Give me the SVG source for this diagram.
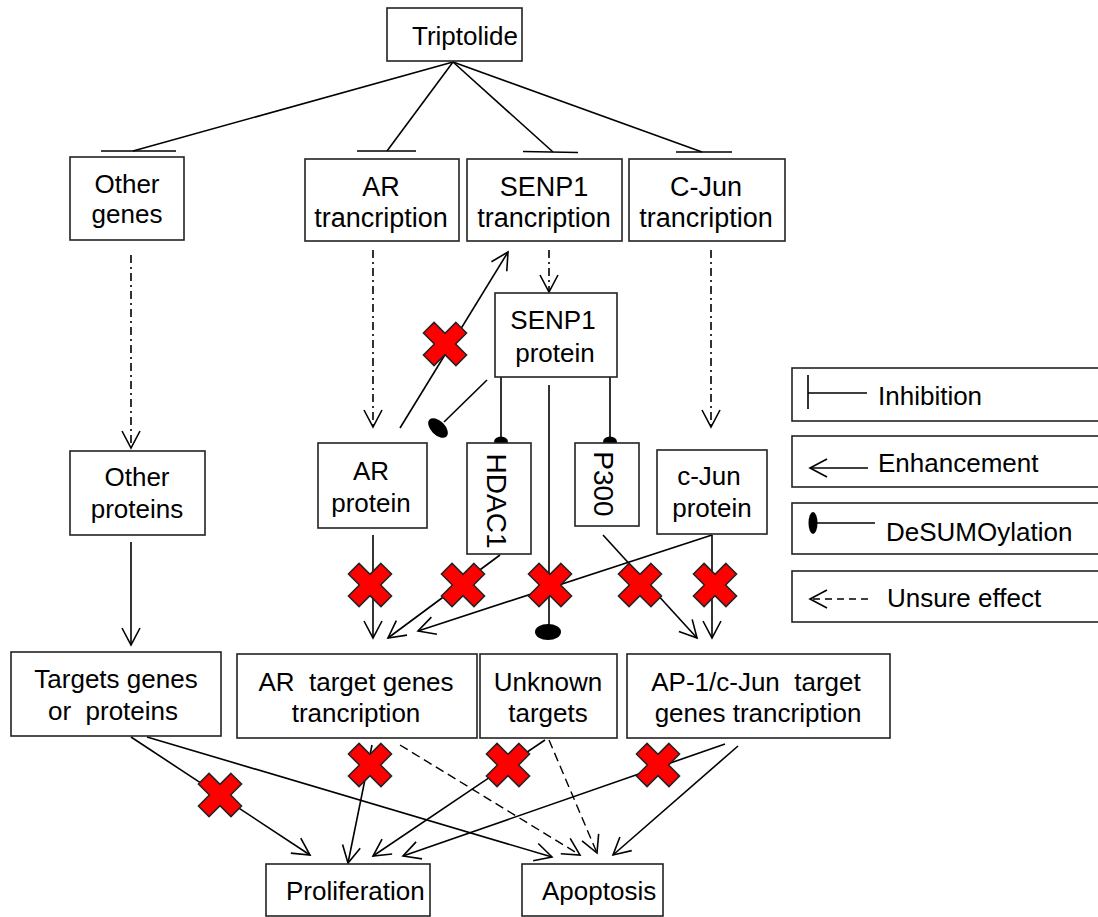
<svg xmlns="http://www.w3.org/2000/svg" xmlns:xlink="http://www.w3.org/1999/xlink" width="1098" height="917" viewBox="0 0 1098 917">
<style>
.bx{fill:#fff;stroke:#222;stroke-width:1.6}
.t{font-family:"Liberation Sans",Arial,Helvetica,sans-serif;font-size:26px;fill:#000}
.t27{font-size:27px}
.ln{stroke:#000;stroke-width:1.6;fill:none}
.dd{stroke:#000;stroke-width:1.6;fill:none;stroke-dasharray:8 4 2 4}
.ds{stroke:#000;stroke-width:1.4;fill:none;stroke-dasharray:9 5}
.ar{marker-end:url(#arr)}
.dot{fill:#000}
.rx{fill:#f00;stroke:#222;stroke-width:1.5}
</style>
<defs>
<marker id="arr" markerUnits="userSpaceOnUse" markerWidth="24" markerHeight="24" viewBox="-20 -12 24 24" refX="0" refY="0" orient="auto" overflow="visible">
<path d="M-17,-9 L0,0 L-17,9" fill="none" stroke="#000" stroke-width="1.6"/>
</marker>
<polygon id="redx" points="10.96,-21.57 21.57,-10.96 10.61,0 21.57,10.96 10.96,21.57 0,10.61 -10.96,21.57 -21.57,10.96 -10.61,0 -21.57,-10.96 -10.96,-21.57 0,-10.61"/>
</defs>
<rect width="1098" height="917" fill="#fff"/>

<g id="connectors">
<line class="ln" x1="453" y1="62" x2="133" y2="151"/>
<line class="ln" x1="101" y1="151" x2="176" y2="151"/>
<line class="ln" x1="453" y1="62" x2="387" y2="151"/>
<line class="ln" x1="357" y1="151" x2="416" y2="151"/>
<line class="ln" x1="453" y1="62" x2="553" y2="152"/>
<line class="ln" x1="523" y1="151.5" x2="578" y2="152.5"/>
<line class="ln" x1="453" y1="62" x2="702" y2="152"/>
<line class="ln" x1="676" y1="152" x2="732" y2="152"/>
<line class="dd ar" x1="131" y1="255" x2="131" y2="448"/>
<line class="dd ar" x1="373" y1="250" x2="373" y2="427"/>
<line class="dd ar" x1="549" y1="250" x2="549" y2="292"/>
<line class="dd ar" x1="711" y1="250" x2="711" y2="427"/>
<line class="ln ar" x1="400" y1="428" x2="508" y2="252"/>
<line class="ln" x1="487" y1="380" x2="444" y2="422"/>
<ellipse class="dot" cx="0" cy="0" rx="12" ry="7" transform="translate(438,428) rotate(45)"/>
<line class="ln" x1="501" y1="377" x2="501" y2="438"/>
<ellipse class="dot" cx="501" cy="442" rx="7" ry="5.5"/>
<line class="ln" x1="610" y1="377" x2="610" y2="438"/>
<ellipse class="dot" cx="610" cy="442" rx="7" ry="5.5"/>
<line class="ln" x1="549" y1="385" x2="549" y2="626"/>
<ellipse class="dot" cx="548" cy="632" rx="13" ry="8"/>
<line class="ln ar" x1="131" y1="542" x2="131" y2="645"/>
<line class="ln ar" x1="373" y1="535" x2="373" y2="638"/>
<line class="ln ar" x1="500" y1="555" x2="388" y2="638"/>
<line class="ln ar" x1="712" y1="535" x2="418" y2="631"/>
<line class="ln ar" x1="603" y1="535" x2="697" y2="638"/>
<line class="ln ar" x1="712" y1="535" x2="712" y2="638"/>
<line class="ln ar" x1="131" y1="737" x2="310" y2="855"/>
<line class="ln ar" x1="147" y1="737" x2="552" y2="857"/>
<line class="ln ar" x1="372" y1="745" x2="348" y2="863"/>
<line class="ds ar" x1="400" y1="745" x2="580" y2="855"/>
<line class="ln ar" x1="545" y1="740" x2="373" y2="856"/>
<line class="ds ar" x1="549" y1="740" x2="597" y2="853"/>
<line class="ln ar" x1="725" y1="744" x2="403" y2="856"/>
<line class="ln ar" x1="738" y1="746" x2="613" y2="855"/>
</g>

<g id="blocks">
<use xlink:href="#redx" href="#redx" class="rx" x="445" y="344"/>
<use xlink:href="#redx" href="#redx" class="rx" x="370" y="585"/>
<use xlink:href="#redx" href="#redx" class="rx" x="463" y="585"/>
<use xlink:href="#redx" href="#redx" class="rx" x="550" y="585"/>
<use xlink:href="#redx" href="#redx" class="rx" x="640" y="585"/>
<use xlink:href="#redx" href="#redx" class="rx" x="715" y="585"/>
<use xlink:href="#redx" href="#redx" class="rx" x="220" y="795"/>
<use xlink:href="#redx" href="#redx" class="rx" x="370" y="765"/>
<use xlink:href="#redx" href="#redx" class="rx" x="508" y="765"/>
<use xlink:href="#redx" href="#redx" class="rx" x="658" y="765"/>
</g>

<g id="n-triptolide">
<rect class="bx" x="387" y="8" width="135" height="53"/>
<text class="t" x="465" y="45" text-anchor="middle">Triptolide</text>
</g>
<g id="n-other-genes">
<rect class="bx" x="70" y="157" width="114" height="83"/>
<text class="t" x="127" y="193" text-anchor="middle">Other</text>
<text class="t" x="127" y="223" text-anchor="middle">genes</text>
</g>
<g id="n-ar-transcription">
<rect class="bx" x="305" y="159" width="154" height="82"/>
<text class="t t27" x="381" y="196" text-anchor="middle">AR</text>
<text class="t t27" x="381" y="227" text-anchor="middle">trancription</text>
</g>
<g id="n-senp1-transcription">
<rect class="bx" x="467" y="159" width="155" height="82"/>
<text class="t t27" x="544" y="196" text-anchor="middle">SENP1</text>
<text class="t t27" x="544" y="227" text-anchor="middle">trancription</text>
</g>
<g id="n-cjun-transcription">
<rect class="bx" x="629" y="159" width="156" height="82"/>
<text class="t t27" x="706" y="196" text-anchor="middle">C-Jun</text>
<text class="t t27" x="706" y="227" text-anchor="middle">trancription</text>
</g>
<g id="n-senp1-protein">
<rect class="bx" x="495" y="293" width="122" height="84"/>
<text class="t" x="553" y="329" text-anchor="middle">SENP1</text>
<text class="t" x="555" y="362" text-anchor="middle">protein</text>
</g>
<g id="n-other-proteins">
<rect class="bx" x="70" y="451" width="135" height="84"/>
<text class="t" x="137" y="486" text-anchor="middle">Other</text>
<text class="t" x="137" y="518" text-anchor="middle">proteins</text>
</g>
<g id="n-ar-protein">
<rect class="bx" x="318" y="443" width="109" height="85"/>
<text class="t" x="371" y="480" text-anchor="middle">AR</text>
<text class="t" x="371" y="512" text-anchor="middle">protein</text>
</g>
<g id="n-hdac1">
<rect class="bx" x="467" y="443" width="64" height="111"/>
<text class="t" style="font-size:28px" text-anchor="middle" transform="translate(497,501) rotate(90)" y="10">HDAC1</text>
</g>
<g id="n-p300">
<rect class="bx" x="575" y="443" width="64" height="83"/>
<text class="t" style="font-size:28px" text-anchor="middle" transform="translate(604,484) rotate(90)" y="10">P300</text>
</g>
<g id="n-cjun-protein">
<rect class="bx" x="657" y="450" width="110" height="84"/>
<text class="t" x="709" y="485" text-anchor="middle">c-Jun</text>
<text class="t" x="712" y="517" text-anchor="middle">protein</text>
</g>
<g id="n-targets">
<rect class="bx" x="11" y="652" width="210" height="84"/>
<text class="t" x="116" y="688" text-anchor="middle" xml:space="preserve">Targets genes</text>
<text class="t" x="113" y="720" text-anchor="middle" xml:space="preserve">or  proteins</text>
</g>
<g id="n-ar-target">
<rect class="bx" x="237" y="654" width="240" height="84"/>
<text class="t" x="356" y="691" text-anchor="middle" xml:space="preserve">AR  target genes</text>
<text class="t" x="356" y="722" text-anchor="middle">trancription</text>
</g>
<g id="n-unknown">
<rect class="bx" x="480" y="654" width="137" height="84"/>
<text class="t" x="548" y="691" text-anchor="middle">Unknown</text>
<text class="t" x="548" y="722" text-anchor="middle">targets</text>
</g>
<g id="n-ap1-target">
<rect class="bx" x="627" y="654" width="263" height="84"/>
<text class="t" x="756" y="691" text-anchor="middle" xml:space="preserve">AP-1/c-Jun  target</text>
<text class="t" x="758" y="722" text-anchor="middle">genes trancription</text>
</g>
<g id="n-proliferation">
<rect class="bx" x="266" y="864" width="164" height="52"/>
<text class="t" x="286" y="900">Proliferation</text>
</g>
<g id="n-apoptosis">
<rect class="bx" x="522" y="864" width="141" height="52"/>
<text class="t" x="542" y="900">Apoptosis</text>
</g>

<g id="legend">
<rect class="bx" x="792" y="368" width="320" height="53"/>
<line class="ln" x1="808" y1="375" x2="808" y2="409"/>
<line class="ln" x1="808" y1="393" x2="867" y2="393"/>
<text class="t" x="878" y="405">Inhibition</text>
<rect class="bx" x="792" y="436" width="320" height="51"/>
<line class="ln" x1="868" y1="468" x2="810" y2="468" marker-end="url(#arr)"/>
<text class="t" x="878" y="472">Enhancement</text>
<rect class="bx" x="792" y="503" width="320" height="51"/>
<ellipse class="dot" cx="813" cy="523" rx="4.5" ry="11"/>
<line class="ln" x1="816" y1="523" x2="875" y2="523"/>
<text class="t" x="886" y="541">DeSUMOylation</text>
<rect class="bx" x="792" y="571" width="320" height="51"/>
<line class="ln" x1="868" y1="599" x2="810" y2="599" style="stroke-dasharray:7 5" marker-end="url(#arr)"/>
<text class="t" x="887" y="607">Unsure effect</text>
</g>
</svg>
